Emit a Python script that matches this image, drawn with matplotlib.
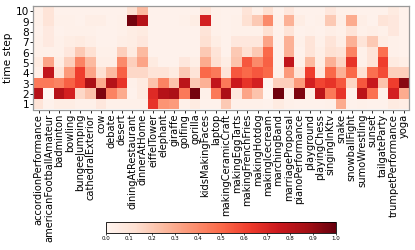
import numpy as np
import matplotlib
matplotlib.use("Agg")
import matplotlib.pyplot as plt

categories = ["accordionPerformance", "americanFootballAmateur", "badminton", "bowling",
              "bungeeJumping", "cathedralExterior", "cow", "debate", "desert",
              "diningAtRestaurant", "dinnerAtHome", "eiffelTower", "elephant", "giraffe",
              "golfing", "gorilla", "kidsMakingFaces", "laptop", "makingCeramicCraft",
              "makingEggTarts", "makingFrenchFries", "makingHotdog", "makingIcecream",
              "marchingBand", "marriageProposal", "pianoPerformance", "playground",
              "playingChess", "singingInKtv", "snake", "snowballFight", "sumoWrestling",
              "sunset", "tailgateParty", "trumpetPerformance", "yoga"]

time_steps = [1, 2, 3, 4, 5, 6, 7, 8, 9, 10]

# values per category, time step 1 .. 10
accordionPerformance = [0.10, 0.82, 0.45, 0.04, 0.06, 0.03, 0.03, 0.02, 0.03, 0.03]
americanFootballAmateur = [0.02, 0.00, 0.45, 0.78, 0.32, 0.03, 0.07, 0.07, 0.10, 0.10]
badminton = [0.05, 0.82, 0.42, 0.10, 0.05, 0.03, 0.03, 0.02, 0.03, 0.02]
bowling = [0.05, 0.72, 0.52, 0.35, 0.18, 0.08, 0.05, 0.03, 0.03, 0.02]
bungeeJumping = [0.03, 0.15, 0.62, 0.62, 0.42, 0.20, 0.06, 0.03, 0.02, 0.02]
cathedralExterior = [0.03, 0.22, 0.85, 0.32, 0.25, 0.12, 0.04, 0.03, 0.04, 0.02]
cow = [0.08, 0.95, 0.30, 0.12, 0.04, 0.03, 0.02, 0.02, 0.04, 0.02]
debate = [0.03, 0.42, 0.82, 0.25, 0.04, 0.03, 0.02, 0.02, 0.02, 0.02]
desert = [0.03, 0.30, 0.65, 0.52, 0.40, 0.18, 0.04, 0.03, 0.03, 0.02]
diningAtRestaurant = [0.03, 0.02, 0.03, 0.15, 0.18, 0.06, 0.05, 0.05, 0.97, 0.12]
dinnerAtHome = [0.03, 0.06, 0.06, 0.15, 0.32, 0.25, 0.08, 0.06, 0.82, 0.25]
eiffelTower = [0.65, 0.68, 0.22, 0.10, 0.06, 0.02, 0.02, 0.02, 0.02, 0.02]
elephant = [0.37, 0.82, 0.42, 0.10, 0.02, 0.02, 0.02, 0.02, 0.02, 0.02]
giraffe = [0.35, 0.85, 0.22, 0.06, 0.02, 0.02, 0.02, 0.02, 0.02, 0.02]
golfing = [0.03, 0.45, 0.80, 0.20, 0.08, 0.02, 0.02, 0.02, 0.03, 0.02]
gorilla = [0.06, 0.97, 0.20, 0.10, 0.04, 0.02, 0.02, 0.02, 0.05, 0.02]
kidsMakingFaces = [0.02, 0.03, 0.28, 0.50, 0.30, 0.20, 0.12, 0.10, 0.72, 0.10]
laptop = [0.02, 0.45, 0.78, 0.45, 0.12, 0.10, 0.05, 0.03, 0.03, 0.03]
makingCeramicCraft = [0.20, 0.85, 0.45, 0.10, 0.05, 0.02, 0.02, 0.02, 0.02, 0.02]
makingEggTarts = [0.03, 0.08, 0.75, 0.55, 0.22, 0.20, 0.08, 0.03, 0.03, 0.02]
makingFrenchFries = [0.03, 0.32, 0.65, 0.50, 0.55, 0.12, 0.08, 0.03, 0.12, 0.10]
makingHotdog = [0.03, 0.22, 0.72, 0.55, 0.40, 0.20, 0.08, 0.03, 0.20, 0.03]
makingIcecream = [0.02, 0.00, 0.01, 0.50, 0.52, 0.50, 0.32, 0.12, 0.40, 0.12]
marchingBand = [0.06, 0.98, 0.18, 0.03, 0.02, 0.02, 0.02, 0.02, 0.03, 0.02]
marriageProposal = [0.03, 0.02, 0.18, 0.35, 0.78, 0.28, 0.28, 0.10, 0.28, 0.08]
pianoPerformance = [0.02, 0.95, 0.35, 0.10, 0.03, 0.02, 0.03, 0.02, 0.05, 0.02]
playground = [0.02, 0.05, 0.72, 0.62, 0.25, 0.10, 0.10, 0.03, 0.02, 0.02]
playingChess = [0.02, 0.80, 0.60, 0.08, 0.05, 0.04, 0.03, 0.02, 0.03, 0.02]
singingInKtv = [0.03, 0.45, 0.65, 0.50, 0.28, 0.12, 0.10, 0.04, 0.20, 0.08]
snake = [0.30, 0.65, 0.55, 0.28, 0.16, 0.10, 0.04, 0.03, 0.04, 0.03]
snowballFight = [0.02, 0.02, 0.16, 0.50, 0.65, 0.42, 0.28, 0.10, 0.30, 0.03]
sumoWrestling = [0.03, 0.80, 0.55, 0.12, 0.03, 0.03, 0.10, 0.03, 0.04, 0.02]
sunset = [0.02, 0.48, 0.76, 0.48, 0.10, 0.10, 0.20, 0.04, 0.02, 0.02]
tailgateParty = [0.02, 0.03, 0.22, 0.58, 0.62, 0.48, 0.05, 0.03, 0.10, 0.02]
trumpetPerformance = [0.06, 0.72, 0.62, 0.18, 0.06, 0.03, 0.03, 0.08, 0.08, 0.06]
yoga = [0.05, 0.30, 0.93, 0.18, 0.04, 0.02, 0.02, 0.02, 0.02, 0.02]

columns = [accordionPerformance, americanFootballAmateur, badminton, bowling,
           bungeeJumping, cathedralExterior, cow, debate, desert,
           diningAtRestaurant, dinnerAtHome, eiffelTower, elephant, giraffe,
           golfing, gorilla, kidsMakingFaces, laptop, makingCeramicCraft,
           makingEggTarts, makingFrenchFries, makingHotdog, makingIcecream,
           marchingBand, marriageProposal, pianoPerformance, playground,
           playingChess, singingInKtv, snake, snowballFight, sumoWrestling,
           sunset, tailgateParty, trumpetPerformance, yoga]

data = np.array(columns).T  # shape (10, 36), row 0 = time step 1

fig = plt.figure(figsize=(4.15, 2.5), dpi=100)
ax = fig.add_axes([0.0802, 0.562, 0.9053, 0.414])
im = ax.imshow(data, cmap="Reds", vmin=0, vmax=1, aspect="auto", origin="lower",
               interpolation="nearest")
ax.set_xticks(np.arange(len(categories)))
ax.set_xticklabels(categories, rotation=90, fontsize=7.1)
ax.set_yticks(np.arange(len(time_steps)))
ax.set_yticklabels([str(t) for t in time_steps], fontsize=7.6)
ax.set_ylabel("time step", fontsize=7.6, labelpad=2)
ax.tick_params(axis="both", length=2, width=0.6, pad=1)
for s in ax.spines.values():
    s.set_color("#999999")
    s.set_linewidth(0.9)

cax = fig.add_axes([0.2554, 0.068, 0.554, 0.044])
cb = fig.colorbar(im, cax=cax, orientation="horizontal",
                  ticks=np.linspace(0, 1, 11))
cb.ax.tick_params(labelsize=4, length=1.5, width=0.5, pad=1)
cb.set_ticklabels([f"{v:.1f}" for v in np.linspace(0, 1, 11)])
cb.outline.set_linewidth(0.6)

fig.savefig("out.png", dpi=100)
